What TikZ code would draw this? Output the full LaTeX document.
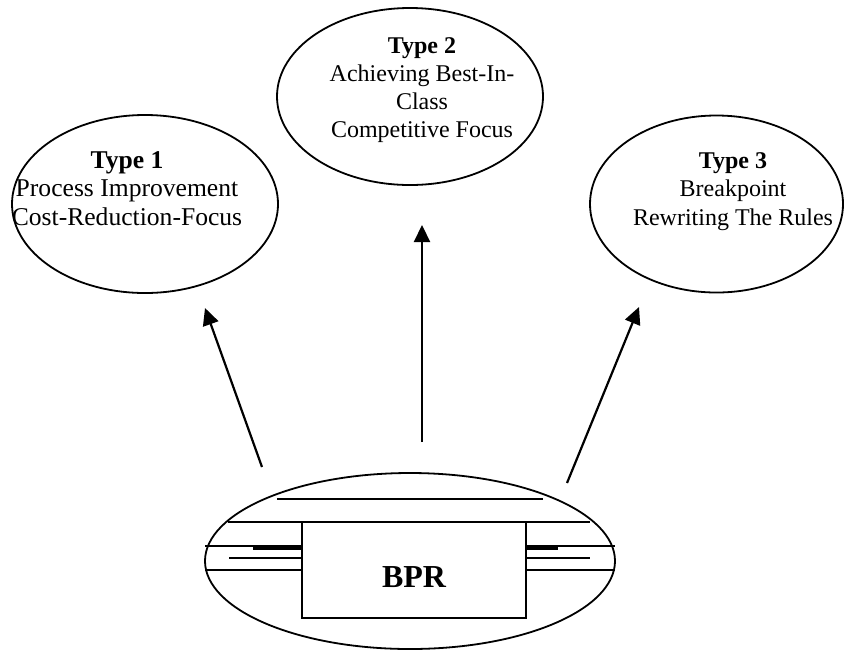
\documentclass[tikz,border=0pt]{standalone}
\usepackage{fontspec}
\setmainfont{Liberation Serif}
\usetikzlibrary{shapes.geometric,arrows.meta}
\begin{document}
\begin{tikzpicture}[x=1pt,y=-1pt,
  oval/.style={draw,ellipse,line width=1.8pt,inner sep=0pt},
  lbl/.style={align=center,font=\fontsize{24}{28}\selectfont,inner sep=0pt,anchor=north},
  ray/.style={line width=2.2pt,-{Triangle[length=17pt,width=16pt]}},
  bar/.style={line width=1.8pt},
  heavybar/.style={line width=3.2pt}]
\useasboundingbox (0,0) rectangle (845,649);

% the three reengineering types
\node[oval,minimum width=266pt,minimum height=178pt] (t1) at (145,204) {};
\node[oval,minimum width=266pt,minimum height=177pt] (t2) at (410,96.5) {};
\node[oval,minimum width=253pt,minimum height=177pt] (t3) at (716.5,204) {};

\node[lbl,font=\fontsize{25.6}{28.5}\selectfont] (t1text) at (127,151) {\textbf{Type 1}\\Process Improvement\\Cost-Reduction-Focus};
\node[lbl] (t2text) at (422,37) {\textbf{Type 2}\\Achieving Best-In-\\Class\\Competitive Focus};
\node[lbl,font=\fontsize{24}{28.5}\selectfont] (t3text) at (733,152) {\textbf{Type 3}\\Breakpoint\\Rewriting The Rules};

% BPR base
\node[oval,minimum width=410pt,minimum height=176pt] (bpr) at (410,561) {};
\draw[bar] (277,499) -- (543,499);
\draw[bar] (228,522) -- (590,522);
\draw[bar] (205,546) -- (302,546);
\draw[bar] (526,546) -- (615,546);
\draw[heavybar] (253,548) -- (302,548);
\draw[heavybar] (526,548) -- (558,548);
\draw[bar] (229,558) -- (302,558);
\draw[bar] (526,558) -- (590,558);
\draw[bar] (205,570) -- (302,570);
\draw[bar] (526,570) -- (615,570);
\node[draw,fill=white,line width=1.8pt,minimum width=224pt,minimum height=96pt,inner sep=0pt] (box) at (414,570) {};
\node[font=\fontsize{32}{36}\selectfont\bfseries,inner sep=0pt,anchor=base] (bprtext) at (414,587) {BPR};

% arrows from the base to each type
\coordinate (s1) at (262,467);
\coordinate (e1) at (205,308);
\coordinate (s2) at (422,442);
\coordinate (e2) at (422,225);
\coordinate (s3) at (567,483);
\coordinate (e3) at (639,307);
\draw[ray] (s1) -- (e1);
\draw[ray] (s2) -- (e2);
\draw[ray] (s3) -- (e3);
\end{tikzpicture}
\end{document}
